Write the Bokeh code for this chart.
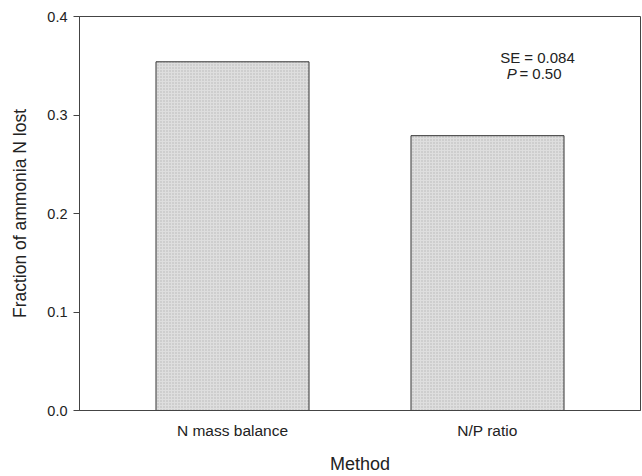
from bokeh.plotting import figure
from bokeh.models import Range1d, FixedTicker, ColumnDataSource
from bokeh.core.properties import value
from bokeh.embed import file_html
from bokeh.resources import INLINE

categories = ["N mass balance", "N/P ratio"]
fractions = [0.354, 0.279]
y_ticks = [0.0, 0.1, 0.2, 0.3, 0.4]
se_text = "SE = 0.084"
p_value_text = "= 0.50"

xpos = [i + 1 for i in range(len(categories))]
src = ColumnDataSource(dict(x=xpos, top=fractions))

FONT = "Liberation Sans"

p = figure(width=642, height=476, output_backend="svg", toolbar_location=None,
           x_range=Range1d(0.4, 2.6), y_range=Range1d(0, 0.4),
           min_border_left=79, min_border_right=2, min_border_top=16, min_border_bottom=66)

p.vbar(x="x", top="top", bottom=0, width=0.6, source=src,
       fill_color="#dedede", line_color="#333333", line_width=1,
       hatch_pattern="dot", hatch_color="#8c8c8c", hatch_scale=3, hatch_alpha=0.5)

p.xgrid.grid_line_color = None
p.ygrid.grid_line_color = None
p.outline_line_color = "#444444"
p.outline_line_width = 1
p.background_fill_color = "white"
p.border_fill_color = "white"

p.xaxis.ticker = FixedTicker(ticks=xpos)
p.xaxis.major_label_overrides = {x: c for x, c in zip(xpos, categories)}
p.xaxis.major_tick_line_color = None
p.xaxis.major_tick_in = 0
p.xaxis.major_tick_out = 0
p.xaxis.minor_tick_line_color = None
p.xaxis.axis_line_color = "#444444"
p.xaxis.axis_label = "Method"
p.xaxis.axis_label_text_font = FONT
p.xaxis.axis_label_text_font_style = "normal"
p.xaxis.axis_label_text_font_size = "18px"
p.xaxis.axis_label_standoff = 12
p.xaxis.major_label_text_font = FONT
p.xaxis.major_label_text_font_size = "15.5px"
p.xaxis.major_label_standoff = 11
p.xaxis.major_label_text_color = "#222222"
p.xaxis.axis_label_text_color = "#222222"

p.yaxis.ticker = FixedTicker(ticks=y_ticks)
p.yaxis.formatter.use_scientific = False
p.yaxis.major_label_overrides = {t: f"{t:.1f}" for t in y_ticks}
p.yaxis.minor_tick_line_color = None
p.yaxis.major_tick_in = 0
p.yaxis.major_tick_out = 6
p.yaxis.major_tick_line_color = "#444444"
p.yaxis.axis_line_color = "#444444"
p.yaxis.axis_label = "Fraction of ammonia N lost"
p.yaxis.axis_label_text_font = FONT
p.yaxis.axis_label_text_font_style = "normal"
p.yaxis.axis_label_text_font_size = "17.5px"
p.yaxis.axis_label_standoff = 14
p.yaxis.major_label_text_font = FONT
p.yaxis.major_label_text_font_size = "14.5px"
p.yaxis.major_label_standoff = 6
p.yaxis.major_label_text_color = "#222222"
p.yaxis.axis_label_text_color = "#222222"

p.text(x=[2.196], y=[0.358], text=[se_text], text_font=value(FONT), text_font_size="15px",
       text_align="center", text_baseline="middle", text_color="#222222")
p.text(x=[2.115], y=[0.342], text=["P"], text_font=value(FONT), text_font_size="15px",
       text_font_style="italic", text_align="right", text_baseline="middle", text_color="#222222")
p.text(x=[2.125], y=[0.342], text=[p_value_text], text_font=value(FONT), text_font_size="15px",
       text_align="left", text_baseline="middle", text_color="#222222")

open("out.html", "w").write(file_html(p, INLINE))
